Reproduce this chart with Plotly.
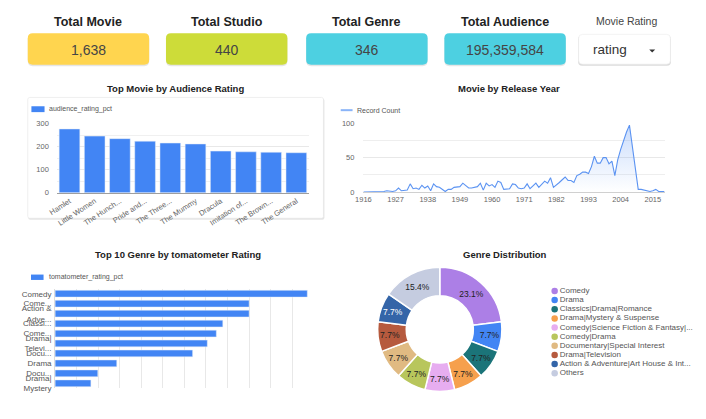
import plotly.graph_objects as go

W, H = 706, 419


def X(px):
    return px / W


def Y(py):
    return 1 - py / H


FONT = "Liberation Sans, Arial, sans-serif"

# ---------------- data ----------------
kpi_titles = ["Total Movie", "Total Studio", "Total Genre", "Total Audience"]
kpi_values = ["1,638", "440", "346", "195,359,584"]
kpi_colors = ["#FFD54F", "#CDDC39", "#4DD0E1", "#4DD0E1"]
dropdown_label = "Movie Rating"
dropdown_value = "rating"

movie_titles = ["Hamlet", "Little Women", "The Hunch...", "Pride and...", "The Three...",
                "The Mummy", "Dracula", "Imitation of...", "The Brown...", "The General"]
audience_rating_pct = [277, 246, 235, 224, 216, 212, 181, 178, 176, 174]

release_years = list(range(1916, 2020))
record_count = [
    0, 0, 1, 0, 1, 1, 1, 1, 2, 1,        # 1916-1925
    1, 2, 6, 2, 2, 3, 12, 5, 6, 4,       # 1926-1935
    10, 6, 9, 2, 12, 8, 7, 4, 1, 4,      # 1936-1945
    4, 7, 8, 8, 13, 9, 6, 6, 7, 8,       # 1946-1955
    13, 3, 13, 9, 11, 7, 16, 14, 4, 5,   # 1956-1965
    5, 12, 11, 6, 5, 6, 12, 5, 9, 13,    # 1966-1975
    7, 11, 16, 13, 21, 7, 10, 14, 18, 22,  # 1976-1985
    17, 17, 14, 24, 26, 29, 29, 27, 37, 52,  # 1986-1995
    42, 42, 50, 50, 41, 45, 24, 47, 62, 75,  # 1996-2005
    87, 97, 65, 33, 4, 4, 3, 2, 1, 2,    # 2006-2015
    4, 1, 1, 1,                          # 2016-2019
]
year_ticks = [1916, 1927, 1938, 1949, 1960, 1971, 1982, 1993, 2004, 2015]

genre_labels = ["Comedy", "Come...", "Action &<br>Adve...", "Classi...", "Come...",
                "Drama|<br>Televi...", "Docu...", "Drama", "Docu...", "Drama|<br>Mystery"]
tomatometer_rating_pct = [585, 450, 450, 389, 374, 353, 319, 143, 99, 83]

pie_labels = ["Comedy", "Drama", "Classics|Drama|Romance", "Drama|Mystery & Suspense",
              "Comedy|Science Fiction & Fantasy|...", "Comedy|Drama",
              "Documentary|Special Interest", "Drama|Television",
              "Action & Adventure|Art House & Int...", "Others"]
pie_values = [3, 1, 1, 1, 1, 1, 1, 1, 1, 2]
pie_colors = ["#AC7FE6", "#4285F4", "#1B7479", "#F6A04D", "#E7ADF0", "#B8C65C",
              "#E0BA82", "#B65A3E", "#3465A8", "#C5CCE0"]
pie_text_colors = ["#222", "#222", "#222", "#222", "#222", "#222", "#222", "#222", "#fff", "#222"]

BLUE = "#4285F4"

fig = go.Figure()

# ---------------- top-left bar chart ----------------
fig.add_trace(go.Bar(
    x=movie_titles, y=audience_rating_pct, marker_color=BLUE, width=0.82,
    xaxis="x", yaxis="y", showlegend=False, hoverinfo="x+y",
))

# ---------------- top-right line chart ----------------
fig.add_trace(go.Scatter(
    x=release_years, y=record_count, mode="lines",
    line=dict(color="#5B93F2", width=1.1),
    fill="tozeroy",
    fillgradient=dict(type="vertical",
                      colorscale=[[0, "rgba(66,133,244,0.0)"], [1, "rgba(66,133,244,0.28)"]]),
    xaxis="x2", yaxis="y2", showlegend=False,
))

# ---------------- bottom-left horizontal bar ----------------
fig.add_trace(go.Bar(
    x=tomatometer_rating_pct, y=list(range(len(genre_labels))), orientation="h",
    marker_color=BLUE, width=0.68, xaxis="x3", yaxis="y3", showlegend=False,
))

# ---------------- donut ----------------
fig.add_trace(go.Pie(
    labels=pie_labels, values=pie_values, hole=0.54, sort=False,
    direction="clockwise", rotation=0,
    marker=dict(colors=pie_colors, line=dict(color="white", width=1.5)),
    texttemplate="%{percent:.1%}", textposition="inside",
    insidetextorientation="horizontal",
    textfont=dict(size=8.5, color=pie_text_colors, family=FONT),
    domain=dict(x=[X(371), X(501.7)], y=[Y(396), Y(269)]),
    showlegend=False,
))

# custom donut legend drawn with scatter markers
fig.add_trace(go.Scatter(
    x=[0] * len(pie_labels), y=list(range(len(pie_labels))), mode="markers+text",
    marker=dict(color=pie_colors, size=6.5, symbol="circle"),
    text=pie_labels, textposition="middle right",
    textfont=dict(size=8, color="#555", family=FONT),
    xaxis="x4", yaxis="y4", showlegend=False, hoverinfo="skip", cliponaxis=False,
))

axis_font = dict(size=7.5, color="#666", family=FONT)
GRID = "#E8E8E8"

fig.update_layout(
    width=W, height=H, margin=dict(l=0, r=0, t=0, b=0),
    paper_bgcolor="white", plot_bgcolor="rgba(0,0,0,0)",
    font=dict(family=FONT),
    xaxis=dict(domain=[X(48.5), X(303.8)], anchor="y", tickangle=-33, tickfont=axis_font,
               showgrid=False, showline=True, linecolor="#9E9E9E", linewidth=1,
               ticks="", fixedrange=True),
    yaxis=dict(domain=[Y(193), Y(122.3)], anchor="x", range=[0, 300],
               tickvals=[0, 100, 200, 300],
               tickfont=axis_font, gridcolor=GRID, zeroline=False,
               minor=dict(tickvals=[50, 150, 250], showgrid=True, gridcolor="#F0F0F0"),
               ticklabelstandoff=7),
    xaxis2=dict(domain=[X(359), X(664)], anchor="y2", range=[1916, 2019], tickvals=year_ticks,
                tickfont=axis_font, showgrid=False, showline=True, linecolor="#D0D0D0",
                ticks="", zeroline=False),
    yaxis2=dict(domain=[Y(192.3), Y(121.7)], anchor="x2", range=[0, 100],
                tickvals=[0, 50, 100],
                tickfont=axis_font, gridcolor=GRID, zeroline=False,
                minor=dict(tickvals=[25, 75], showgrid=True, gridcolor="#EEEEEE"),
                ticklabelstandoff=8),
    xaxis3=dict(domain=[X(46.7), X(308.7)], anchor="y3", range=[0, 600], dtick=50,
                showticklabels=False, gridcolor=GRID, zeroline=False, showline=False),
    yaxis3=dict(domain=[Y(392.7), Y(291)], anchor="x3", range=[9.5, -0.5],
                tickvals=list(range(len(genre_labels))), ticktext=genre_labels,
                tickfont=dict(size=8, color="#555", family=FONT), showgrid=False,
                zeroline=False, showline=True, linecolor="#DDDDDD", ticklabelstandoff=1),
    xaxis4=dict(domain=[X(552.7), 1], anchor="y4", range=[0, 1], visible=False),
    yaxis4=dict(domain=[Y(382), Y(288.6)], anchor="x4", range=[9.5, -0.5], visible=False),
    bargap=0.18,
)


def rrect(x0, y0, x1, y1, r, fill, line=None, lw=0):
    """rounded rectangle in pixel coords (y downward) -> paper path"""
    rx, ry = r / W, r / H
    a, b = X(x0), X(x1)
    top, bot = Y(y0), Y(y1)
    path = (f"M{a+rx},{bot} L{b-rx},{bot} Q{b},{bot} {b},{bot+ry} "
            f"L{b},{top-ry} Q{b},{top} {b-rx},{top} L{a+rx},{top} "
            f"Q{a},{top} {a},{top-ry} L{a},{bot+ry} Q{a},{bot} {a+rx},{bot} Z")
    return dict(type="path", xref="paper", yref="paper", path=path, fillcolor=fill,
                line=dict(color=line or "rgba(0,0,0,0)", width=lw), layer="below")


def note(px, py, text, size, color, anchor="center", bold=False):
    return dict(x=X(px), y=Y(py), xref="paper", yref="paper",
                text=f"<b>{text}</b>" if bold else text, showarrow=False,
                xanchor=anchor, yanchor="middle",
                font=dict(size=size, color=color, family=FONT))


shapes = []
annotations = []

# KPI cards
kpi_boxes = [(19, 142), (159, 282), (301, 424), (441, 564)]
for (x0, x1), t, v, c in zip(kpi_boxes, kpi_titles, kpi_values, kpi_colors):
    shapes.append(rrect(x0, 31, x1, 63.5, 5, "rgba(0,0,0,0.10)"))
    shapes.append(rrect(x0, 30, x1, 62, 5, c))
    cx = (x0 + x1) / 2
    annotations.append(note(cx, 18.5, t, 12.5, "#222", bold=True))
    annotations.append(note(cx, 46.5, v, 14, "#454545"))

# dropdown
shapes.append(rrect(576.5, 32, 670.5, 63, 4, "rgba(0,0,0,0.14)"))
shapes.append(rrect(577, 31, 670, 61.5, 4, "white", "#EBEBEB", 0.6))
annotations.append(note(625.5, 17, dropdown_label, 10.5, "#444"))
annotations.append(note(589.5, 47, dropdown_value, 13.5, "#333", anchor="left"))
shapes.append(dict(type="path", xref="paper", yref="paper",
                   path=f"M{X(648.5)},{Y(46.5)} L{X(654.5)},{Y(46.5)} L{X(651.5)},{Y(49.5)} Z",
                   fillcolor="#333", line=dict(width=0)))

# top-left card
shapes.append(rrect(19.5, 96.5, 319.5, 220.5, 2, "rgba(0,0,0,0.10)"))
shapes.append(rrect(19, 95.5, 318.5, 219, 2, "white", "#E6E6E6", 0.6))

# chart titles
for cx, cy, t in [(169, 86.5, "Top Movie by Audience Rating"),
                  (506, 86.5, "Movie by Release Year"),
                  (171, 255.5, "Top 10 Genre by tomatometer Rating"),
                  (502, 255.5, "Genre Distribution")]:
    annotations.append(note(cx, cy, t, 9.5, "#222", bold=True))

# legends
shapes.append(dict(type="rect", xref="paper", yref="paper", x0=X(22.7), x1=X(36),
                   y0=Y(110.5), y1=Y(104.5), fillcolor=BLUE, line=dict(width=0)))
annotations.append(note(38.5, 107.5, "audience_rating_pct", 7, "#555", anchor="left"))
shapes.append(dict(type="line", xref="paper", yref="paper", x0=X(336), x1=X(348),
                   y0=Y(108.5), y1=Y(108.5), line=dict(color="#8AB4F8", width=2)))
annotations.append(note(350.5, 108.5, "Record Count", 7, "#555", anchor="left"))
shapes.append(dict(type="rect", xref="paper", yref="paper", x0=X(22.3), x1=X(35),
                   y0=Y(282), y1=Y(276.5), fillcolor=BLUE, line=dict(width=0)))
annotations.append(note(38, 279.3, "tomatometer_rating_pct", 7, "#555", anchor="left"))

fig.update_layout(shapes=shapes, annotations=annotations)

fig.write_html("out.html")
